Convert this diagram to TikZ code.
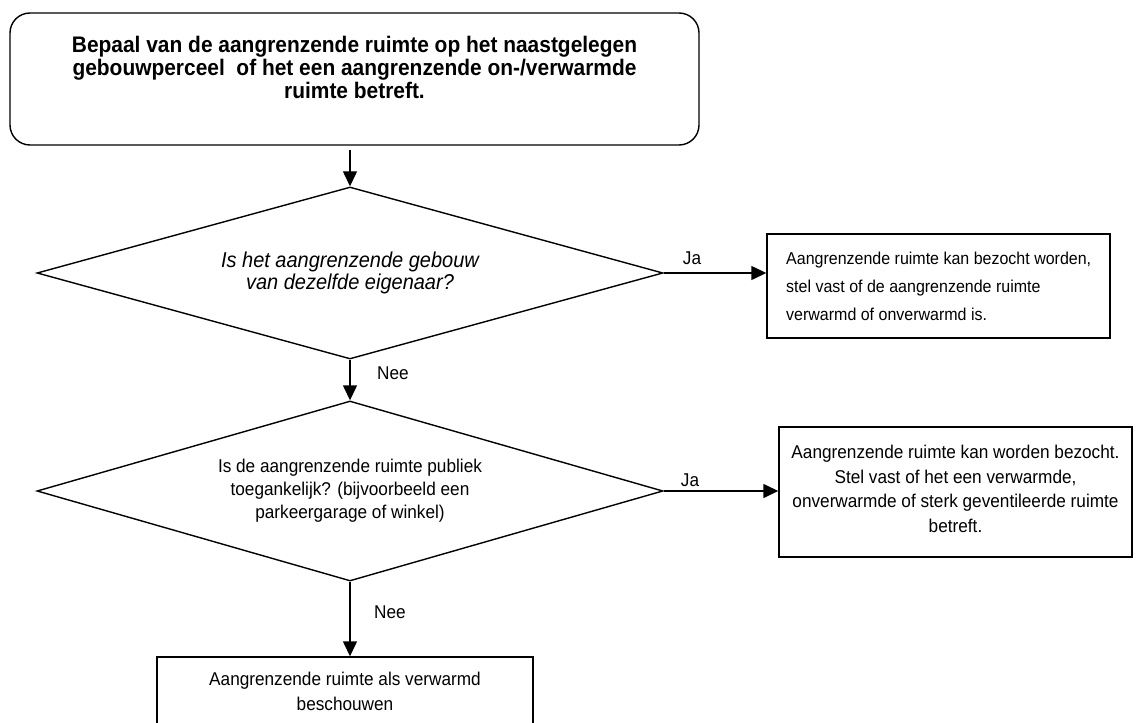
\documentclass[tikz,border=0pt]{standalone}
\usepackage{fontspec}
\setmainfont{Liberation Sans}[FakeStretch=0.93]
\usetikzlibrary{shapes.geometric,arrows.meta}

\begin{document}
\begin{tikzpicture}[x=1pt,y=-1pt,
  outline/.style={draw=black,line width=1.4pt},
  stepbox/.style={outline,rectangle,inner sep=0pt},
  decision/.style={outline,diamond,inner sep=0pt,align=center,
    font=\fontsize{18.5}{23}\selectfont},
  flow/.style={line width=1.4pt,-{Triangle[length=15pt,width=14pt]}},
  txt/.style={font=\fontsize{18.5}{24.5}\selectfont,inner sep=0pt},
  boldtxt/.style={font=\fontsize{22.5}{23}\selectfont\bfseries,align=center,inner sep=0pt},
  lbl/.style={font=\fontsize{18.5}{22}\selectfont,inner sep=0pt}]
\useasboundingbox (0,0) rectangle (1147,722);

% start box
\node[outline,rounded corners=20pt,minimum width=689pt,minimum height=132pt] (start) at (354.5,79) {};
\node[boldtxt] (starttext) at (354.5,67)
  {Bepaal van de aangrenzende ruimte op het naastgelegen\\
   gebouwperceel\ \ of het een aangrenzende on-/verwarmde\\
   ruimte betreft.};

% first decision
\node[decision,aspect=3.64,minimum width=626pt,minimum height=172pt,
  font=\fontsize{21.5}{22}\selectfont\itshape] (q1) at (350,273)
  {Is het aangrenzende gebouw\\ van dezelfde eigenaar?};

% answer box for the first decision
\node[stepbox,minimum width=343pt,minimum height=104pt] (a1) at (938.5,286) {};
\node[txt,anchor=west,align=left,font=\fontsize{17.2}{28}\selectfont] (a1text) at (786,286)
  {Aangrenzende ruimte kan bezocht worden,\\
   stel vast of de aangrenzende ruimte\\
   verwarmd of onverwarmd is.};

% second decision
\node[decision,aspect=3.48,minimum width=626pt,minimum height=180pt] (q2) at (350,491)
  {Is de aangrenzende ruimte publiek\\ toegankelijk? (bijvoorbeeld een\\ parkeergarage of winkel)};

% answer box for the second decision
\node[stepbox,minimum width=353pt,minimum height=130pt] (a2) at (955.5,492) {};
\node[txt,align=center] (a2text) at (955.5,489)
  {Aangrenzende ruimte kan worden bezocht.\\
   Stel vast of het een verwarmde,\\
   onverwarmde of sterk geventileerde ruimte\\
   betreft.};

% final box
\node[stepbox,minimum width=376pt,minimum height=69pt] (a3) at (345,691.5) {};
\node[txt,align=center] (a3text) at (345,691.5)
  {Aangrenzende ruimte als verwarmd\\ beschouwen};

% connectors
\draw[flow,shorten <=4pt] (start.south -| q1.north) -- (q1.north);
\draw[flow] (q1.east) -- (q1.east -| a1.west);
\draw[flow] (q1.south) -- (q2.north);
\draw[flow] (q2.east) -- (q2.east -| a2.west);
\draw[flow] (q2.south) -- (q2.south |- a3.north);

% connector labels
\node[lbl] (ja1) at (692,258) {Ja};
\node[lbl] (nee1) at (393,373) {Nee};
\node[lbl] (ja2) at (690,480) {Ja};
\node[lbl] (nee2) at (390,612) {Nee};
\end{tikzpicture}
\end{document}
